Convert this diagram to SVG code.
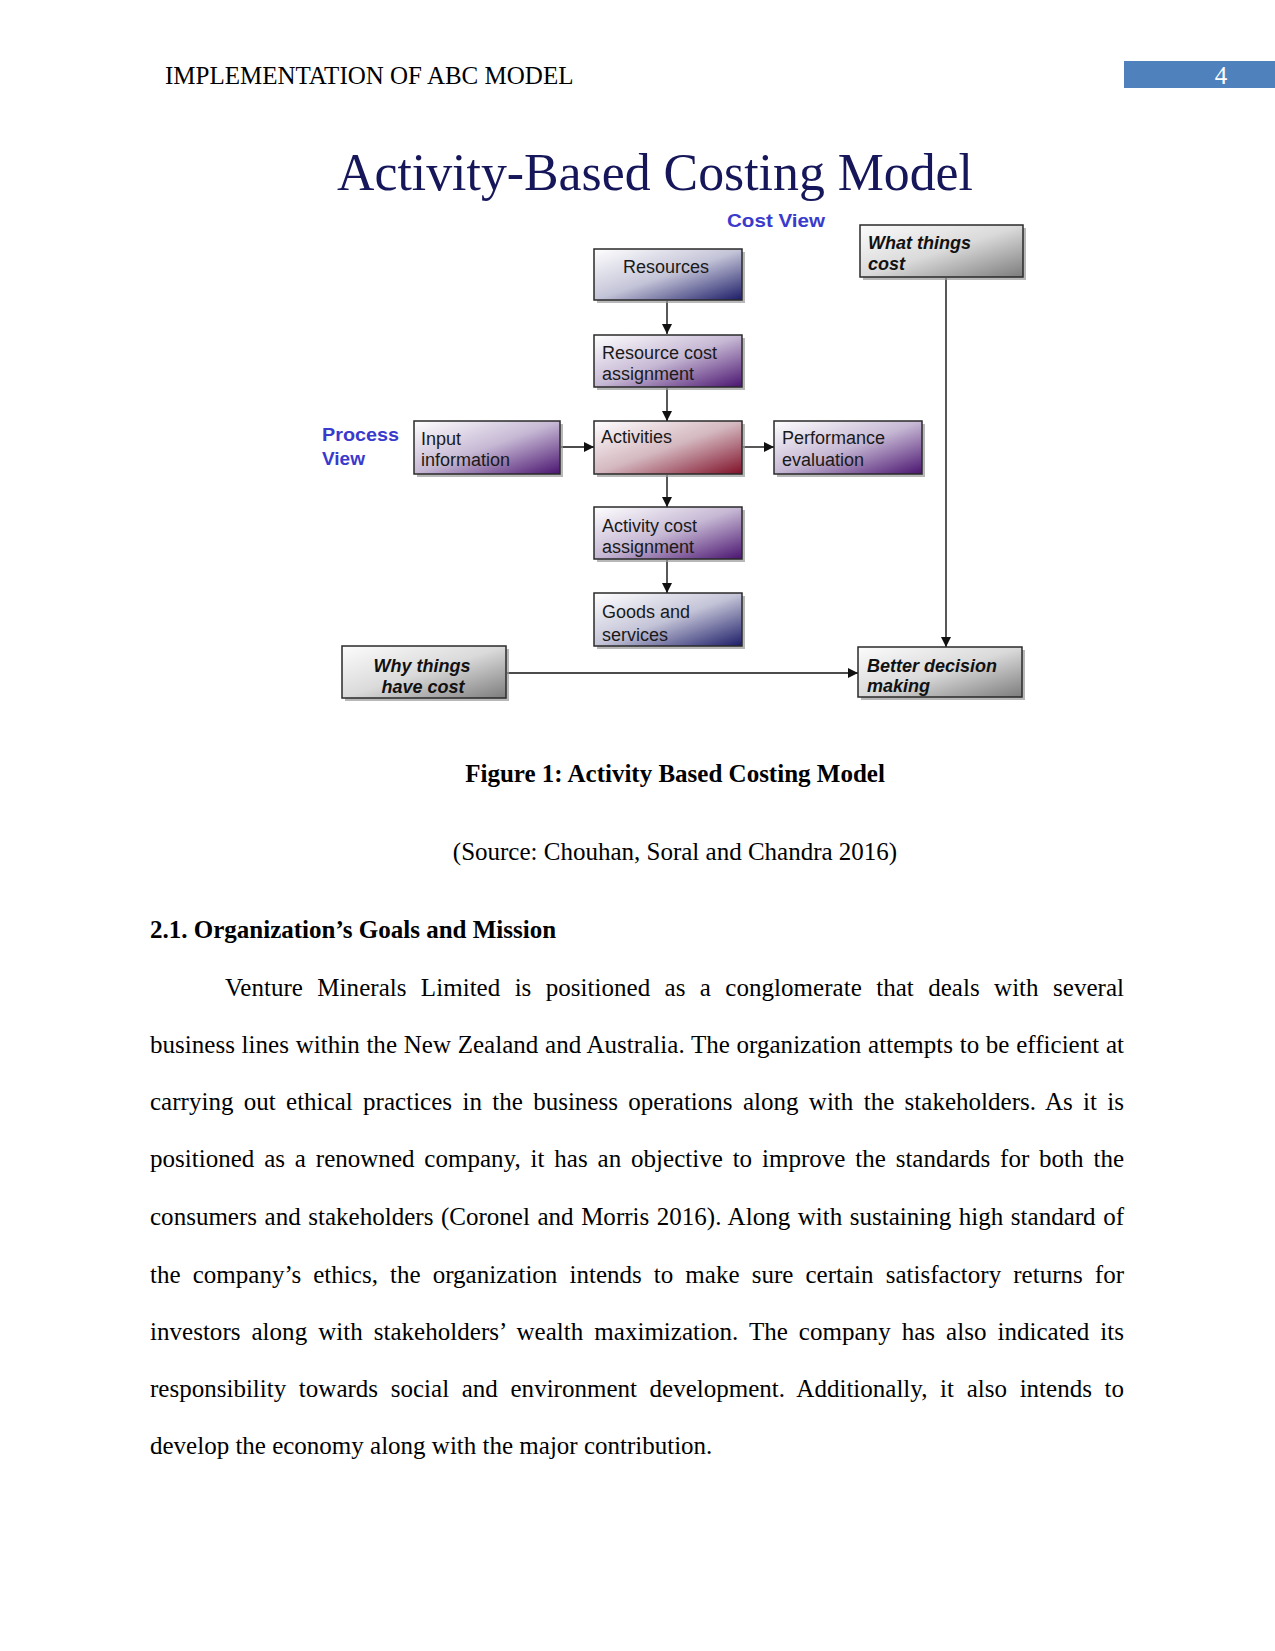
<svg xmlns="http://www.w3.org/2000/svg" width="1275" height="1651" viewBox="0 0 1275 1651">
<style>
.doc{font-family:"Liberation Serif","Times New Roman",serif;font-size:25px;fill:#000}
.docb{font-family:"Liberation Serif","Times New Roman",serif;font-size:25px;font-weight:bold;fill:#000}
.title{font-family:"Liberation Serif","Times New Roman",serif;font-size:52px;fill:#16165a}
.view{font-family:"Liberation Sans",Arial,sans-serif;font-size:19px;font-weight:bold;fill:#3a3acc}
.nt{font-family:"Liberation Sans",Arial,sans-serif;font-size:18px;fill:#1a1a1a}
.nti{font-family:"Liberation Sans",Arial,sans-serif;font-size:18px;font-weight:bold;font-style:italic;fill:#111}
.box{stroke:#2a2a2a;stroke-width:1.5}
.sh{fill:#9a9a9a;opacity:0.7}
.conn{stroke:#111;stroke-width:1.4;fill:none}
</style>
<defs>
<linearGradient id="gNavy" x1="0" y1="0" x2="1" y2="1"><stop offset="0" stop-color="#ffffff"/><stop offset="0.5" stop-color="#c4c4d8"/><stop offset="1" stop-color="#1c1c68"/></linearGradient>
<linearGradient id="gPurple" x1="0" y1="0" x2="1" y2="1"><stop offset="0" stop-color="#ffffff"/><stop offset="0.5" stop-color="#c6b8d4"/><stop offset="1" stop-color="#4a1470"/></linearGradient>
<linearGradient id="gRed" x1="0" y1="0" x2="1" y2="1"><stop offset="0" stop-color="#ffffff"/><stop offset="0.5" stop-color="#d4b8c0"/><stop offset="1" stop-color="#801028"/></linearGradient>
<linearGradient id="gGray" x1="0" y1="0" x2="1" y2="1"><stop offset="0" stop-color="#fcfcfc"/><stop offset="0.5" stop-color="#dadada"/><stop offset="1" stop-color="#7c7c7c"/></linearGradient>
<marker id="arr" markerUnits="userSpaceOnUse" markerWidth="10" markerHeight="10" refX="10" refY="5" orient="auto"><path d="M0,0 L10,5 L0,10 Z" fill="#111"/></marker>
</defs>

<g id="header">
<text class="doc" x="165" y="84">IMPLEMENTATION OF ABC MODEL</text>
<rect x="1124" y="61" width="151" height="27" fill="#4f81bd"/>
<text class="doc" x="1221" y="84" style="fill:#fff" text-anchor="middle">4</text>
</g>

<text class="title" x="337" y="190" textLength="636" lengthAdjust="spacingAndGlyphs">Activity-Based Costing Model</text>
<text class="view" x="727" y="227" textLength="98" lengthAdjust="spacingAndGlyphs">Cost View</text>
<text class="view" x="322" y="441" textLength="77" lengthAdjust="spacingAndGlyphs">Process</text>
<text class="view" x="322" y="465">View</text>

<g id="connectors">
<line class="conn" x1="667" y1="301" x2="667" y2="334" marker-end="url(#arr)"/>
<line class="conn" x1="667" y1="388" x2="667" y2="421" marker-end="url(#arr)"/>
<line class="conn" x1="667" y1="475" x2="667" y2="507" marker-end="url(#arr)"/>
<line class="conn" x1="667" y1="560" x2="667" y2="593" marker-end="url(#arr)"/>
<line class="conn" x1="561" y1="447" x2="594" y2="447" marker-end="url(#arr)"/>
<line class="conn" x1="743" y1="447" x2="774" y2="447" marker-end="url(#arr)"/>
<line class="conn" x1="946" y1="278" x2="946" y2="647" marker-end="url(#arr)"/>
<line class="conn" x1="507" y1="673" x2="858" y2="673" marker-end="url(#arr)"/>
</g>

<g id="resources">
<rect class="sh" x="597" y="252" width="148" height="51"/>
<rect class="box" x="594" y="249" width="148" height="51" fill="url(#gNavy)"/>
<text class="nt" x="666" y="273" text-anchor="middle">Resources</text>
</g>
<g id="resource-cost-assignment">
<rect class="sh" x="597" y="338" width="148" height="52"/>
<rect class="box" x="594" y="335" width="148" height="52" fill="url(#gPurple)"/>
<text class="nt" x="602" y="359">Resource cost</text>
<text class="nt" x="602" y="380">assignment</text>
</g>
<g id="input-information">
<rect class="sh" x="417" y="424" width="146" height="53"/>
<rect class="box" x="414" y="421" width="146" height="53" fill="url(#gPurple)"/>
<text class="nt" x="421" y="445">Input</text>
<text class="nt" x="421" y="466">information</text>
</g>
<g id="activities">
<rect class="sh" x="597" y="424" width="148" height="53"/>
<rect class="box" x="594" y="421" width="148" height="53" fill="url(#gRed)"/>
<text class="nt" x="601" y="443">Activities</text>
</g>
<g id="performance-evaluation">
<rect class="sh" x="777" y="424" width="148" height="53"/>
<rect class="box" x="774" y="421" width="148" height="53" fill="url(#gPurple)"/>
<text class="nt" x="782" y="444">Performance</text>
<text class="nt" x="782" y="466">evaluation</text>
</g>
<g id="activity-cost-assignment">
<rect class="sh" x="597" y="510" width="148" height="52"/>
<rect class="box" x="594" y="507" width="148" height="52" fill="url(#gPurple)"/>
<text class="nt" x="602" y="532">Activity cost</text>
<text class="nt" x="602" y="553">assignment</text>
</g>
<g id="goods-and-services">
<rect class="sh" x="597" y="596" width="148" height="53"/>
<rect class="box" x="594" y="593" width="148" height="53" fill="url(#gNavy)"/>
<text class="nt" x="602" y="618">Goods and</text>
<text class="nt" x="602" y="641">services</text>
</g>
<g id="what-things-cost">
<rect class="sh" x="863" y="228" width="163" height="52"/>
<rect class="box" x="860" y="225" width="163" height="52" fill="url(#gGray)"/>
<text class="nti" x="868" y="249">What things</text>
<text class="nti" x="868" y="270">cost</text>
</g>
<g id="why-things-have-cost">
<rect class="sh" x="345" y="649" width="164" height="52"/>
<rect class="box" x="342" y="646" width="164" height="52" fill="url(#gGray)"/>
<text class="nti" x="422" y="672" text-anchor="middle">Why things</text>
<text class="nti" x="423" y="693" text-anchor="middle">have cost</text>
</g>
<g id="better-decision-making">
<rect class="sh" x="861" y="650" width="164" height="50"/>
<rect class="box" x="858" y="647" width="164" height="50" fill="url(#gGray)"/>
<text class="nti" x="867" y="672">Better decision</text>
<text class="nti" x="867" y="692">making</text>
</g>

<g id="document-text">
<text class="docb" x="675" y="782" text-anchor="middle">Figure 1: Activity Based Costing Model</text>
<text class="doc" x="675" y="860" text-anchor="middle">(Source: Chouhan, Soral and Chandra 2016)</text>
<text class="docb" x="150" y="938">2.1. Organization’s Goals and Mission</text>
<text class="doc" x="225" y="996" word-spacing="8.06" textLength="899" lengthAdjust="spacing">Venture Minerals Limited is positioned as a conglomerate that deals with several</text>
<text class="doc" x="150" y="1053" word-spacing="0.39" textLength="974" lengthAdjust="spacing">business lines within the New Zealand and Australia. The organization attempts to be efficient at</text>
<text class="doc" x="150" y="1110" word-spacing="4.05" textLength="974" lengthAdjust="spacing">carrying out ethical practices in the business operations along with the stakeholders. As it is</text>
<text class="doc" x="150" y="1167" word-spacing="3.55" textLength="974" lengthAdjust="spacing">positioned as a renowned company, it has an objective to improve the standards for both the</text>
<text class="doc" x="150" y="1225" word-spacing="1.26" textLength="974" lengthAdjust="spacing">consumers and stakeholders (Coronel and Morris 2016). Along with sustaining high standard of</text>
<text class="doc" x="150" y="1283" word-spacing="5.78" textLength="974" lengthAdjust="spacing">the company’s ethics, the organization intends to make sure certain satisfactory returns for</text>
<text class="doc" x="150" y="1340" word-spacing="4.72" textLength="974" lengthAdjust="spacing">investors along with stakeholders’ wealth maximization. The company has also indicated its</text>
<text class="doc" x="150" y="1397" word-spacing="6.39" textLength="974" lengthAdjust="spacing">responsibility towards social and environment development. Additionally, it also intends to</text>
<text class="doc" x="150" y="1454">develop the economy along with the major contribution.</text>
</g>
</svg>
